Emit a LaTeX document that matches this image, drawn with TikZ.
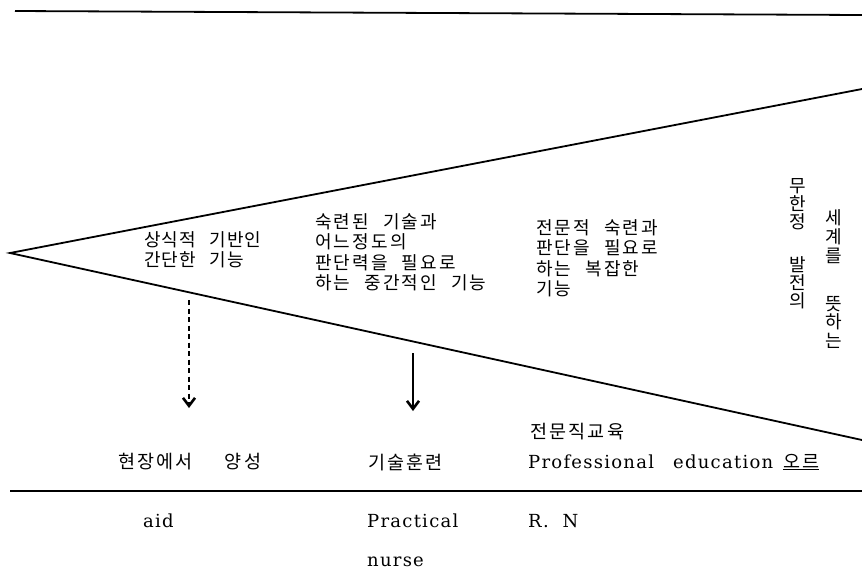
\documentclass[tikz,border=0pt]{standalone}
\usepackage{fontspec}
\usetikzlibrary{arrows.meta}
\newfontfamily\kr[LetterSpace=5]{Noto Sans CJK KR}
\newfontfamily\krw[LetterSpace=12]{Noto Sans CJK KR}
\newfontfamily\lat[LetterSpace=7]{DejaVu Serif}
\newcommand\kgap{\hspace{14pt}}
\begin{document}
\begin{tikzpicture}[x=1pt,y=-1pt,
  rule/.style={line width=1.8pt},
  krtext/.style={font=\kr\fontsize{18}{20.5}\selectfont, inner sep=0pt, align=left, anchor=north west},
  krwide/.style={font=\krw\fontsize{18}{20.5}\selectfont, inner sep=0pt, align=left, anchor=north west},
  krline/.style={font=\krw\fontsize{18.5}{20}\selectfont, inner sep=0pt, anchor=west},
  lattext/.style={font=\lat\fontsize{18}{20}\selectfont, inner sep=0pt, anchor=west},
  vchar/.style={font=\kr\fontsize{18}{18}\selectfont, inner sep=0pt},
  dasharrow/.style={line width=1.6pt, dash pattern=on 5pt off 3.5pt, -{Straight Barb[length=8pt,width=12pt,line width=2.6pt]}},
  solidarrow/.style={line width=2pt, -{Straight Barb[length=8pt,width=12pt,line width=2.6pt]}}]
\useasboundingbox (0,0) rectangle (862,574);
% top rule
\coordinate (tl) at (15,11);
\coordinate (tr) at (862,15);
\draw[rule] (tl) -- (tr);
% wedge
\coordinate (apex) at (10,253);
\coordinate (ur) at (862,89);
\coordinate (lr) at (862,440);
\draw[rule] (ur) -- (apex) -- (lr);
% bottom rule
\coordinate (bl) at (10,491);
\coordinate (br) at (862,491);
\draw[rule] (bl) -- (br);
% texts inside wedge
\node[krtext] (b1) at (144,231) {상식적\kgap 기반인\\간단한\kgap 기능};
\node[krwide] (b2) at (315,213) {숙련된\kgap 기술과\\어느정도의\\판단력을\kgap 필요로\\하는\kgap 중간적인\kgap 기능};
\node[krwide] (b3) at (536,219) {전문적\kgap 숙련과\\판단을\kgap 필요로\\하는\kgap 복잡한\\기능};
% vertical columns
\node[vchar] (c11) at (798,186) {무};
\node[vchar] (c12) at (798,204) {한};
\node[vchar] (c13) at (798,222) {정};
\node[vchar] (c14) at (798,265) {발};
\node[vchar] (c15) at (798,283) {전};
\node[vchar] (c16) at (798,301) {의};
\node[vchar] (c21) at (834,218) {세};
\node[vchar] (c22) at (834,237) {계};
\node[vchar] (c23) at (834,256) {를};
\node[vchar] (c24) at (834,304) {뜻};
\node[vchar] (c25) at (834,322) {하};
\node[vchar] (c26) at (834,341) {는};
% arrows
\coordinate (d1) at (189,300);
\coordinate (d2) at (189,408);
\draw[dasharrow] (d1) -- (d2);
\coordinate (s1) at (413,353);
\coordinate (s2) at (413,411);
\draw[solidarrow] (s1) -- (s2);
% bottom labels
\node[krline] (k0) at (530,432) {전문직교육};
\node[krline] (k1) at (118,462) {현장에서\hspace{32pt}양성};
\node[krline] (k2) at (368,462) {기술훈련};
\node[lattext] (p1) at (528,462) {Professional};
\node[lattext] (p2) at (673,462) {education};
\node[krline] (p3) at (783,462) {\underline{오르}};
\node[lattext] (a1) at (143,521) {aid};
\node[lattext] (a2) at (367,521) {Practical};
\node[lattext] (a3) at (528,521) {R.\ \ N};
\node[lattext] (a4) at (367,562) {nurse};
\end{tikzpicture}
\end{document}
